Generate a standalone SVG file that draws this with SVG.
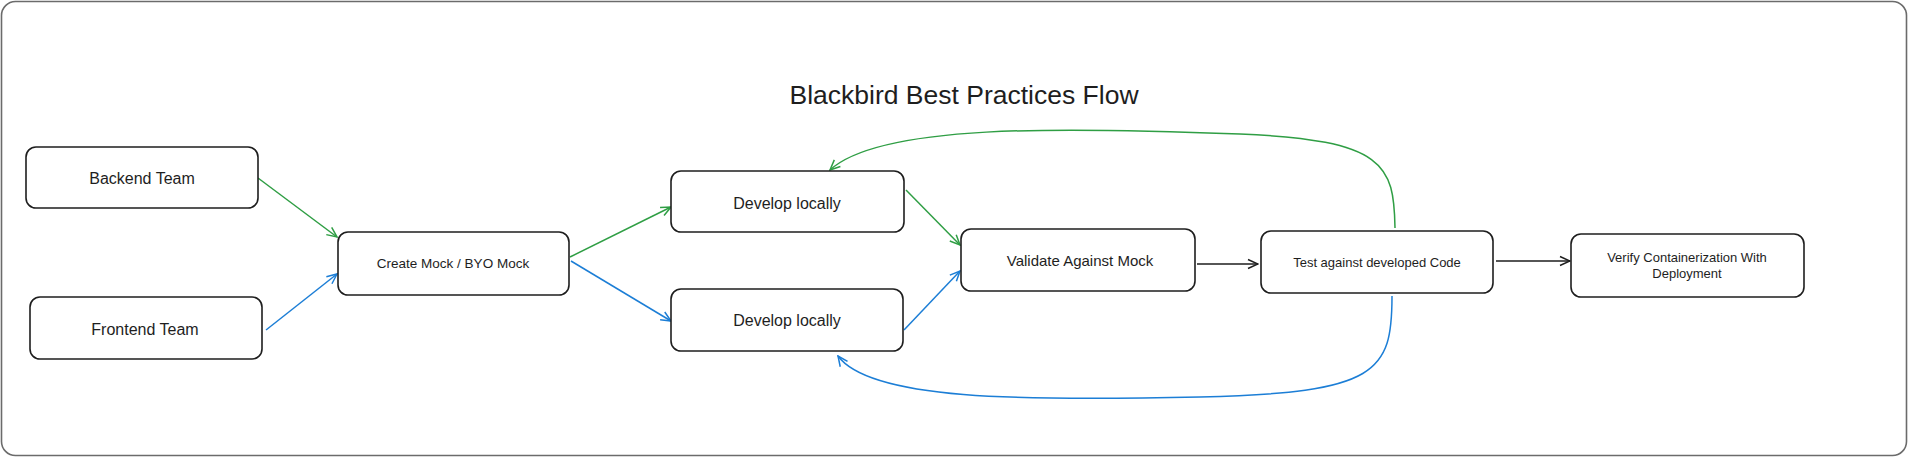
<svg xmlns="http://www.w3.org/2000/svg" width="1920" height="462" viewBox="0 0 1920 462">
<defs>
<style>
.node rect{fill:#ffffff;stroke:#1e1e1e;stroke-width:1.6}
.node text{font-family:"Liberation Sans",Arial,sans-serif;fill:#1e1e1e;text-anchor:middle;dominant-baseline:central}
.edge{fill:none;stroke-width:1.5}
.g{stroke:#2f9e44}
.b{stroke:#1c7ed6}
.k{stroke:#1e1e1e}
</style>
<marker id="ag" viewBox="0 0 12 12" refX="11" refY="6" markerWidth="12" markerHeight="12" markerUnits="userSpaceOnUse" orient="auto"><path d="M1,1.5 L11,6 L1,10.5" fill="none" stroke="#2f9e44" stroke-width="1.5"/></marker>
<marker id="ab" viewBox="0 0 12 12" refX="11" refY="6" markerWidth="12" markerHeight="12" markerUnits="userSpaceOnUse" orient="auto"><path d="M1,1.5 L11,6 L1,10.5" fill="none" stroke="#1c7ed6" stroke-width="1.5"/></marker>
<marker id="ak" viewBox="0 0 12 12" refX="11" refY="6" markerWidth="12" markerHeight="12" markerUnits="userSpaceOnUse" orient="auto"><path d="M1,1.5 L11,6 L1,10.5" fill="none" stroke="#1e1e1e" stroke-width="1.5"/></marker>
</defs>
<rect x="0" y="0" width="1920" height="462" fill="#ffffff"/>
<rect id="frame" x="1.5" y="1.5" width="1905" height="454" rx="14" fill="none" stroke="#6b6b6b" stroke-width="1.6"/>
<text id="title" x="964" y="104" font-family="Liberation Sans, Arial, sans-serif" font-size="26.5" fill="#1e1e1e" text-anchor="middle">Blackbird Best Practices Flow</text>

<g id="connectors">
<path class="edge g" d="M258,178 L337,237" marker-end="url(#ag)"/>
<path class="edge b" d="M266,330 L337,274" marker-end="url(#ab)"/>
<path class="edge g" d="M570,257 L671,207" marker-end="url(#ag)"/>
<path class="edge b" d="M571,261 L671,321" marker-end="url(#ab)"/>
<path class="edge g" d="M906,190 L960,245" marker-end="url(#ag)"/>
<path class="edge b" d="M904,330 L960,271" marker-end="url(#ab)"/>
<path class="edge k" d="M1197,264 L1258,264" marker-end="url(#ak)"/>
<path class="edge k" d="M1496,261 L1570,261" marker-end="url(#ak)"/>
<path class="edge g" d="M1395,228 C1394,165 1385,140 1240,134 C1060,127 880,124 830,170" marker-end="url(#ag)"/>
<path class="edge b" d="M1392,296 C1392,372 1378,393 1200,397 C1020,401 870,400 838,356" marker-end="url(#ab)"/>
</g>

<g id="backend" class="node"><rect x="26" y="147" width="232" height="61" rx="10"/><text x="142" y="178" font-size="16">Backend Team</text></g>
<g id="frontend" class="node"><rect x="30" y="297" width="232" height="62" rx="10"/><text x="145" y="329" font-size="16">Frontend Team</text></g>
<g id="createmock" class="node"><rect x="338" y="232" width="231" height="63" rx="10"/><text x="453" y="263" font-size="13.5">Create Mock / BYO Mock</text></g>
<g id="devtop" class="node"><rect x="671" y="171" width="233" height="61" rx="10"/><text x="787" y="203" font-size="16">Develop locally</text></g>
<g id="devbottom" class="node"><rect x="671" y="289" width="232" height="62" rx="10"/><text x="787" y="320" font-size="16">Develop locally</text></g>
<g id="validate" class="node"><rect x="961" y="229" width="234" height="62" rx="10"/><text x="1080" y="260" font-size="15">Validate Against Mock</text></g>
<g id="test" class="node"><rect x="1261" y="231" width="232" height="62" rx="10"/><text x="1377" y="262" font-size="13">Test against developed Code</text></g>
<g id="verify" class="node"><rect x="1571" y="234" width="233" height="63" rx="10"/><text x="1687" font-size="13"><tspan x="1687" y="257">Verify Containerization With</tspan><tspan x="1687" y="273">Deployment</tspan></text></g>
</svg>
